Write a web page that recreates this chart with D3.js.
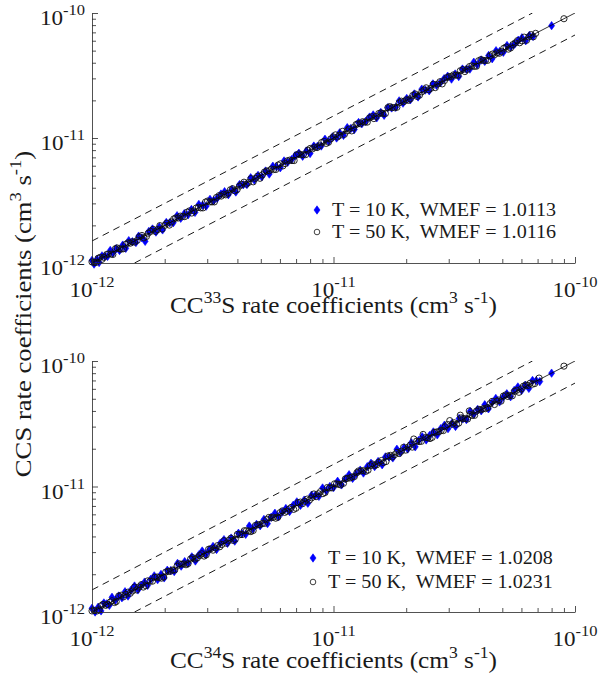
<!DOCTYPE html>
<html><head><meta charset="utf-8">
<script src="https://cdn.jsdelivr.net/npm/d3@7"></script>
<style>
body{margin:0;background:#fff}
</style>
</head><body>
<svg id="c" width="600" height="691"></svg>
<script>
// ---- data (rate coefficients in units of 1e-12 cm^3 s^-1) ----
const majorTicks=[1,10,100];
const tickExp=["-12","-11","-10"];
const minorTicks=[2,3,4,5,6,7,8,9,20,30,40,50,60,70,80,90];
const bandFactor=1.5;

// Panel 1: CC33S (x) vs CCS (y), T = 10 K
const x10a=[1.00,1.02,1.05,1.07,1.10,1.13,1.16,1.19,1.22,1.26,1.30,1.34,1.38,1.42,1.47,1.52,1.56,1.61,1.66,1.72,1.78,1.84,1.90,1.96,2.03,2.10,2.17,2.25,2.33,2.41,2.50,2.58,2.67,2.77,2.87,2.97,3.08,3.19,3.30,3.42,3.54,3.67,3.80,3.94,4.08,4.23,4.38,4.54,4.70,4.87,5.05,5.23,5.42,5.61,5.81,6.02,6.24,6.46,6.70,6.94,7.19,7.45,7.72,8.00,8.29,8.59,8.90,9.22,9.55,9.90,10.3,10.6,11.0,11.4,11.8,12.2,12.7,13.1,13.6,14.1,14.6,15.1,15.7,16.2,16.8,17.4,18.1,18.7,19.4,20.1,20.8,21.6,22.4,23.2,24.0,24.9,25.8,26.7,27.7,28.7,29.7,30.8,31.9,33.0,34.2,35.5,36.7,38.1,39.4,40.9,42.3,43.9,45.4,47.1,48.8,50.5,52.3,54.2,56.2,58.2,60.3,62.5,64.7,67.0,80.0];
const y10a=[1.05,0.98,1.07,1.01,1.14,1.13,1.13,1.26,1.20,1.30,1.26,1.39,1.31,1.51,1.48,1.46,1.64,1.59,1.49,1.79,1.87,1.77,1.94,1.84,2.11,2.10,2.10,2.39,2.28,2.48,2.43,2.68,2.54,2.94,2.90,2.85,3.23,3.16,3.30,3.56,3.72,3.52,3.88,3.70,4.24,4.23,4.25,4.81,4.61,5.02,4.90,5.44,5.15,5.95,5.87,5.78,6.55,6.40,6.70,7.22,7.55,7.15,7.87,7.52,8.62,8.59,8.63,9.77,9.36,10.2,10.0,11.0,10.5,12.1,11.9,11.7,13.3,13.0,13.6,14.7,15.3,14.5,16.0,15.2,17.5,17.4,17.6,19.8,19.0,20.7,20.2,22.5,21.3,24.6,24.2,23.9,27.1,26.4,27.7,29.8,31.2,29.6,32.5,31.0,35.6,35.5,35.6,40.4,38.6,42.1,41.0,45.7,43.1,49.9,49.3,48.5,54.9,53.7,56.2,60.5,63.3,60.0,66.0,65.0,79.2];
// Panel 1: T = 50 K
const x50a=[1.00,1.04,1.08,1.12,1.17,1.22,1.27,1.32,1.38,1.44,1.50,1.57,1.64,1.71,1.79,1.87,1.95,2.04,2.13,2.22,2.32,2.42,2.53,2.64,2.76,2.88,3.01,3.14,3.28,3.43,3.58,3.74,3.90,4.08,4.26,4.45,4.65,4.85,5.07,5.29,5.53,5.77,6.03,6.30,6.58,6.87,7.18,7.50,7.83,8.18,8.55,8.93,9.33,9.74,10.2,10.6,11.1,11.6,12.1,12.6,13.2,13.8,14.4,15.0,15.7,16.4,17.1,17.9,18.7,19.5,20.4,21.3,22.2,23.2,24.2,25.3,26.4,27.6,28.8,30.1,31.4,32.8,34.3,35.8,37.4,39.1,40.8,42.6,44.5,46.5,48.6,50.7,53.0,55.3,57.8,60.4,63.0,65.8,68.7,90.0,
 1.02,1.06,1.10,1.15,1.20,1.25,1.30,1.35,1.41,1.47,1.54,1.61,1.68,1.75,1.83,1.91,2.00,2.09,2.18,2.27,2.37,2.48,2.59,2.70,2.82,2.95,3.08,3.21,3.36,3.51,3.66,3.82,3.99,4.17,4.36,4.55,4.75,4.96,5.18,5.41,5.65,5.90,6.17,6.44,6.73,7.03,7.34,7.67,8.01,8.37,8.74,9.13,9.54,9.97,10.4,10.9,11.4,11.9,12.4,12.9,13.5,14.1,14.7,15.4,16.0,16.8,17.5,18.3,19.1,20.0,20.8,21.8,22.7,23.7,24.8,25.9,27.0,28.2,29.5,30.8,32.1,33.5,35.0,36.6,38.2,39.9,41.7,43.5,45.5,47.5,49.6,51.8,54.1,56.5,59.0,61.6,64.4,67.2];
const y50a=[1.02,1.01,1.11,1.11,1.18,1.17,1.32,1.29,1.41,1.44,1.47,1.62,1.59,1.73,1.86,1.85,1.87,2.08,2.13,2.29,2.37,2.35,2.61,2.61,2.79,2.76,3.13,3.08,3.35,3.43,3.51,3.85,3.78,4.12,4.43,4.41,4.46,4.95,5.07,5.45,5.64,5.60,6.21,6.24,6.65,6.60,7.47,7.35,7.99,8.18,8.38,9.20,9.05,9.84,10.6,10.5,10.7,11.8,12.1,13.0,13.5,13.4,14.8,14.9,15.9,15.7,17.8,17.5,19.1,19.5,20.0,21.9,21.5,23.4,25.2,25.0,25.3,28.2,28.8,31.0,32.0,31.8,35.3,35.4,37.8,37.5,42.4,41.7,45.4,46.5,47.6,52.2,51.4,55.9,60.1,59.8,60.5,67.1,68.7,90.0,
 1.01,1.09,1.07,1.17,1.18,1.30,1.30,1.30,1.45,1.48,1.52,1.66,1.63,1.79,1.79,1.99,2.00,2.01,2.25,2.29,2.35,2.55,2.51,2.75,2.76,3.07,3.08,3.08,3.46,3.55,3.62,3.93,3.87,4.25,4.27,4.73,4.75,4.76,5.34,5.46,5.59,6.08,5.98,6.57,6.60,7.31,7.34,7.36,8.25,8.45,8.65,9.40,9.25,10.2,10.2,11.3,11.4,11.4,12.8,13.0,13.4,14.5,14.3,15.7,15.7,17.5,17.5,17.6,19.7,20.2,20.6,22.5,22.0,24.2,24.3,26.9,27.0,27.1,30.4,31.1,31.8,34.5,34.0,37.3,37.4,41.5,41.7,41.8,46.9,48.0,49.1,53.4,52.5,57.6,57.8,64.1,64.4,64.5];

// Panel 2: CC34S (x) vs CCS (y), T = 10 K
const x10b=[1.00,1.03,1.06,1.09,1.12,1.15,1.18,1.21,1.25,1.29,1.33,1.37,1.41,1.45,1.50,1.55,1.60,1.65,1.70,1.75,1.81,1.87,1.93,1.99,2.05,2.12,2.19,2.26,2.34,2.42,2.50,2.59,2.68,2.77,2.86,2.96,3.06,3.17,3.28,3.40,3.52,3.64,3.77,3.90,4.04,4.18,4.33,4.48,4.64,4.80,4.97,5.15,5.33,5.52,5.72,5.92,6.13,6.35,6.58,6.81,7.05,7.30,7.56,7.83,8.11,8.40,8.70,9.01,9.33,9.66,10.0,10.4,10.8,11.2,11.6,12.0,12.4,12.9,13.3,13.8,14.3,14.8,15.3,15.9,16.4,17.0,17.6,18.3,18.9,19.6,20.3,21.0,21.8,22.5,23.3,24.2,25.0,25.9,26.9,27.8,28.8,29.8,30.9,32.0,33.1,34.3,35.5,36.8,38.1,39.5,40.9,42.3,43.8,45.4,47.0,48.7,50.4,52.2,54.1,56.0,58.0,60.1,62.2,64.4,66.7,69.1,71.5,80.0];
const y10b=[1.07,1.00,1.09,1.02,1.18,1.16,1.13,1.31,1.24,1.34,1.30,1.45,1.34,1.49,1.61,1.50,1.63,1.73,1.63,1.82,1.94,1.81,1.99,1.87,2.15,2.14,2.10,2.44,2.32,2.52,2.45,2.75,2.55,2.85,3.06,2.87,3.12,3.33,3.15,3.54,3.77,3.53,3.88,3.67,4.24,4.22,4.16,4.84,4.59,4.99,4.87,5.46,5.06,5.69,6.12,5.74,6.25,6.67,6.32,7.08,7.54,7.08,7.79,7.36,8.52,8.48,8.35,9.73,9.24,10.0,9.80,11.0,10.3,11.5,12.4,11.6,12.6,13.5,12.8,14.4,15.3,14.4,15.8,14.9,17.2,17.2,16.9,19.8,18.7,20.4,19.9,22.3,20.7,23.2,24.9,23.5,25.5,27.2,25.8,28.9,30.8,28.9,31.8,30.1,34.8,34.6,34.1,39.7,37.7,41.1,40.1,44.8,41.6,46.8,50.3,47.2,51.4,54.8,51.9,58.2,62.1,58.3,64.1,60.5,70.0,69.8,68.6,80.0];
// Panel 2: T = 50 K
const x50b=[1.00,1.05,1.09,1.14,1.19,1.24,1.29,1.35,1.41,1.47,1.53,1.60,1.67,1.74,1.82,1.90,1.98,2.07,2.16,2.25,2.35,2.45,2.56,2.67,2.79,2.91,3.04,3.17,3.31,3.45,3.60,3.76,3.92,4.09,4.27,4.46,4.65,4.86,5.07,5.29,5.52,5.76,6.01,6.28,6.55,6.84,7.14,7.45,7.78,8.12,8.47,8.84,9.23,9.63,10.1,10.5,11.0,11.4,11.9,12.5,13.0,13.6,14.2,14.8,15.4,16.1,16.8,17.5,18.3,19.1,19.9,20.8,21.5,22.6,23.5,24.6,25.6,26.7,27.9,29.0,30.3,31.6,33.0,33.5,34.4,35.9,36.5,37.5,39.1,40.8,42.6,44.5,46.4,48.4,50.5,52.7,55.0,57.4,59.9,62.5,65.2,68.1,71.0,90.0,
 1.02,1.07,1.11,1.16,1.21,1.26,1.32,1.38,1.44,1.50,1.56,1.63,1.70,1.78,1.86,1.94,2.02,2.11,2.20,2.30,2.40,2.50,2.61,2.73,2.85,2.97,3.10,3.24,3.38,3.52,3.68,3.84,4.00,4.18,4.36,4.55,4.75,4.96,5.18,5.40,5.64,5.88,6.14,6.41,6.69,6.99,7.29,7.61,7.95,8.30,8.66,9.04,9.43,9.85,10.3,10.7,11.2,11.7,12.2,12.7,13.3,13.9,14.5,15.1,15.8,16.5,17.2,17.9,18.7,19.5,20.4,21.2,22.1,23.1,24.1,25.1,26.2,27.3,28.5,29.7,31.0,32.3,33.8,35.2,36.8,38.4,40.0,41.7,43.5,45.4,47.4,49.4,51.6,53.8,56.2,58.6,61.1,63.8,66.6];
const y50b=[1.02,1.02,1.12,1.13,1.20,1.19,1.34,1.32,1.44,1.47,1.50,1.65,1.62,1.76,1.89,1.88,1.90,2.11,2.16,2.32,2.40,2.38,2.64,2.64,2.82,2.79,3.16,3.11,3.38,3.45,3.53,3.87,3.80,4.13,4.44,4.42,4.46,4.96,5.07,5.45,5.63,5.59,6.19,6.22,6.62,6.57,7.43,7.30,7.94,8.12,8.30,9.11,8.95,9.73,10.5,10.4,10.6,11.6,11.9,12.9,13.3,13.2,14.6,14.7,15.6,15.5,17.5,17.2,18.7,19.1,19.5,21.4,23.9,22.8,26.0,24.4,24.6,27.2,27.9,29.9,33.5,32.2,32.0,37.0,34.7,34.5,40.0,36.8,39.9,40.8,41.7,45.8,45.0,48.9,52.5,52.2,52.8,58.5,59.9,64.4,66.5,66.1,73.1,91.0,
 1.03,1.04,1.15,1.15,1.23,1.21,1.36,1.38,1.41,1.58,1.58,1.58,1.77,1.76,1.90,1.86,2.08,2.11,2.16,2.42,2.42,2.43,2.71,2.70,2.91,2.85,3.19,3.24,3.31,3.70,3.72,3.72,4.16,4.14,4.45,4.37,4.89,4.96,5.08,5.67,5.70,5.70,6.39,6.35,6.82,6.71,7.51,7.61,7.79,8.72,8.75,8.77,9.81,9.75,10.5,10.3,11.5,11.7,12.0,13.3,13.4,13.5,15.1,14.9,16.1,15.8,17.7,17.9,18.3,20.5,20.6,20.6,23.0,22.9,24.6,24.1,27.0,27.3,27.9,31.2,31.3,31.3,35.2,34.8,37.5,36.9,41.2,41.7,42.6,47.7,47.9,47.9,53.7,53.3,57.3,56.3,62.9,63.8,65.3];

const isotopes=["33","34"];
const wmef10=["1.0113","1.0208"];
const wmef50=["1.0116","1.0231"];
const temps=["10","50"];

// ---- layout ----
const FONT="'Liberation Serif','Times New Roman',Times,serif";
const svg=d3.select("#c").style("font-family",FONT);
const X0=92,X1=575;
const panels=[
 {yTop:13,yBot:263,xs:x10a,ys:y10a,xc:x50a,yc:y50a,legX:317,legY:[210,232],titleY:313},
 {yTop:361,yBot:612,xs:x10b,ys:y10b,xc:x50b,yc:y50b,legX:313,legY:[558,582],titleY:668}
];
const axisCol="#262626";
const txtCol="#1a1a1a";

// text helper: parts = [[string, isSup], ...]
function label(parent,tx,ty,parts,o){
  const g=parent.append("g").attr("transform",`translate(${tx},${ty})${o.rot?" rotate(-90)":""} scale(${o.sx},1)`);
  const t=g.append("text").attr("text-anchor",o.anchor).attr("font-size",o.fs)
    .style("font-family",FONT).style("fill",txtCol).style("white-space","pre");
  let up=false;
  parts.forEach(([s,sup])=>{
    const ts=t.append("tspan").text(s);
    if(sup){ts.attr("font-size",o.sfs); if(!up){ts.attr("dy",-o.raise);up=true;}}
    else if(up){ts.attr("dy",o.raise);up=false;}
  });
  return t;
}

panels.forEach((p,i)=>{
  const x=d3.scaleLog().domain([1,100]).range([X0,X1]);
  const y=d3.scaleLog().domain([1,100]).range([p.yBot,p.yTop]);
  const g=svg.append("g");

  const clipId="clip"+i;
  svg.append("clipPath").attr("id",clipId).append("rect")
    .attr("x",X0).attr("y",p.yTop).attr("width",X1-X0).attr("height",p.yBot-p.yTop);

  const blue=d3.range(p.xs.length).map(k=>[p.xs[k],p.ys[k]]);
  const blk=d3.range(p.xc.length).map(k=>[p.xc[k],p.yc[k]]);
  const diamond="M0,-4.2L3,0L0,4.2L-3,0Z";
  g.append("g").selectAll("path").data(blue).join("path")
    .attr("d",diamond).attr("transform",d=>`translate(${x(d[0])},${y(d[1])})`)
    .attr("fill","#0000ff").attr("stroke","#0000ff").attr("stroke-width",0.6);
  g.append("g").selectAll("circle").data(blk).join("circle")
    .attr("cx",d=>x(d[0])).attr("cy",d=>y(d[1])).attr("r",3.1)
    .attr("fill","none").attr("stroke","#111").attr("stroke-width",0.9);

  // reference lines: y = x, y = 1.5x, y = x/1.5
  const line=d3.line().x(d=>x(d[0])).y(d=>y(d[1]));
  const lg=g.append("g").attr("clip-path",`url(#${clipId})`);
  lg.append("path").attr("d",line([[1,1],[100,100]])).attr("stroke","#000").attr("stroke-width",0.8).attr("fill","none");
  lg.append("path").attr("d",line([[1,bandFactor],[100/bandFactor,100]])).attr("stroke","#000").attr("stroke-width",0.9).attr("fill","none").attr("stroke-dasharray","7,5");
  lg.append("path").attr("d",line([[bandFactor,1],[100,100/bandFactor]])).attr("stroke","#000").attr("stroke-width",0.9).attr("fill","none").attr("stroke-dasharray","7,5");

  // axes (inward ticks, left and bottom only)
  g.append("g").attr("transform",`translate(0,${p.yBot})`)
    .call(d3.axisBottom(x).tickValues(majorTicks).tickSize(-6).tickSizeOuter(0).tickFormat(""));
  g.append("g").attr("transform",`translate(0,${p.yBot})`)
    .call(d3.axisBottom(x).tickValues(minorTicks).tickSize(-4).tickFormat(""))
    .call(s=>s.select(".domain").remove());
  g.append("g").attr("transform",`translate(${X0},0)`)
    .call(d3.axisLeft(y).tickValues(majorTicks).tickSize(-6).tickSizeOuter(0).tickFormat(""));
  g.append("g").attr("transform",`translate(${X0},0)`)
    .call(d3.axisLeft(y).tickValues(minorTicks).tickSize(-4).tickFormat(""))
    .call(s=>s.select(".domain").remove());
  g.selectAll(".domain,.tick line").attr("stroke",axisCol).attr("stroke-width",0.8);

  // tick labels
  const tk={anchor:"middle",fs:21,sfs:15,raise:10,sx:1.1};
  majorTicks.forEach((v,k)=>{
    label(g,x(v),p.yBot+34,[["10",false],[tickExp[k],true]],tk);
    label(g,85,y(v)+12,[["10",false],[tickExp[k],true]],Object.assign({},tk,{anchor:"end"}));
  });

  // x title
  label(g,(X0+X1)/2,p.titleY,[["CC",false],[isotopes[i],true],["S rate coefficients (cm",false],["3",true],[" s",false],["-1",true],[")",false]],
    {anchor:"middle",fs:23,sfs:16,raise:10,sx:1.1});

  // legend
  g.append("path").attr("d",diamond).attr("transform",`translate(${p.legX},${p.legY[0]})`).attr("fill","#0000ff").attr("stroke","#0000ff").attr("stroke-width",0.6);
  g.append("circle").attr("cx",p.legX).attr("cy",p.legY[1]).attr("r",2.8).attr("fill","none").attr("stroke","#111").attr("stroke-width",0.8);
  const lo={anchor:"start",fs:19,sfs:13,raise:8,sx:1.06};
  label(g,p.legX+15,p.legY[0]+6,[[`T = ${temps[0]} K,  WMEF = ${wmef10[i]}`,false]],lo);
  label(g,p.legX+15,p.legY[1]+6,[[`T = ${temps[1]} K,  WMEF = ${wmef50[i]}`,false]],lo);
});

// y title (shared)
label(svg,31,314,[["CCS rate coefficients (cm",false],["3",true],[" s",false],["-1",true],[")",false]],
  {anchor:"middle",fs:23,sfs:16,raise:10,sx:1.16,rot:true});
</script>
</body></html>
